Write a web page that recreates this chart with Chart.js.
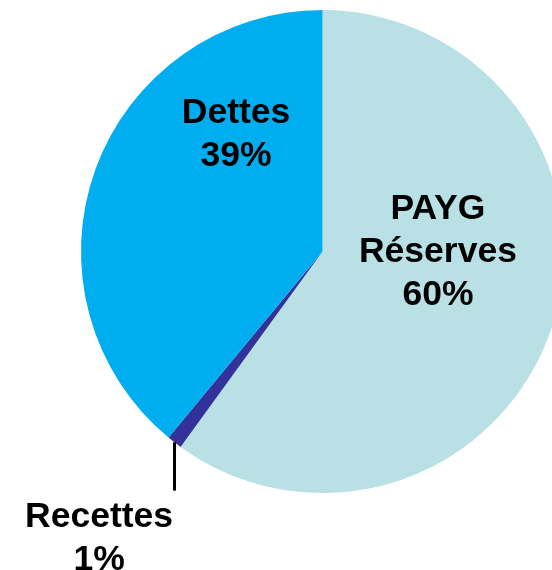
<!DOCTYPE html>
<html>
<head>
<meta charset="utf-8">
<script src="https://cdn.jsdelivr.net/npm/chart.js@4/dist/chart.umd.min.js"></script>
<style>
  html, body { margin: 0; padding: 0; background: #fff; overflow: hidden; }
  #wrap { position: absolute; left: 0; top: 0; width: 645px; height: 570px; }
</style>
</head>
<body>
<div id="wrap"><canvas id="fundingChart"></canvas></div>
<script>
const categories = ["PAYG Réserves", "Recettes", "Dettes"];
const shares = [60, 1, 39];
const labelLines = [["PAYG", "Réserves"], ["Recettes"], ["Dettes"]];
const sliceColors = ["#b9e0e5", "#33329a", "#00aeef"];

// label placement relative to the pie centre, in units of the radius
const placements = [
  { dx: 0.478, dy: -0.135 },
  { dx: -0.925, dy: 1.141, leader: 0.2 },
  { dx: -0.358, dy: -0.532 }
];

const sliceLabels = {
  id: "sliceLabels",
  afterDraw(chart) {
    const ctx = chart.ctx;
    const meta = chart.getDatasetMeta(0);
    ctx.save();
    ctx.font = "bold 35.5px 'Liberation Sans', Arial, sans-serif";
    ctx.fillStyle = "#000";
    ctx.textAlign = "center";
    ctx.textBaseline = "alphabetic";
    meta.data.forEach((arc, i) => {
      const { x, y, outerRadius, startAngle, endAngle } =
        arc.getProps(["x", "y", "outerRadius", "startAngle", "endAngle"], true);
      const p = placements[i];
      if (p.leader) {
        const mid = (startAngle + endAngle) / 2;
        const lx = x + Math.cos(mid) * outerRadius;
        const ly = y + Math.sin(mid) * outerRadius;
        ctx.beginPath();
        ctx.strokeStyle = "#000";
        ctx.lineWidth = 3;
        ctx.moveTo(lx, ly);
        ctx.lineTo(lx, ly + p.leader * outerRadius);
        ctx.stroke();
      }
      const lines = [...labelLines[i], shares[i] + "%"];
      lines.forEach((t, k) => {
        ctx.fillText(t, x + p.dx * outerRadius, y + p.dy * outerRadius + k * 43);
      });
    });
    ctx.restore();
  }
};

const ctx = document.getElementById("fundingChart").getContext("2d");

new Chart(ctx, {
  type: "pie",
  data: {
    labels: categories,
    datasets: [{
      data: shares,
      backgroundColor: sliceColors,
      borderWidth: 0
    }]
  },
  options: {
    responsive: true,
    maintainAspectRatio: false,
    animation: false,
    layout: { padding: { top: 10, bottom: 77, left: 81, right: 81 } },
    plugins: {
      legend: { display: false },
      tooltip: { enabled: false }
    }
  },
  plugins: [sliceLabels]
});
</script>
</body>
</html>
